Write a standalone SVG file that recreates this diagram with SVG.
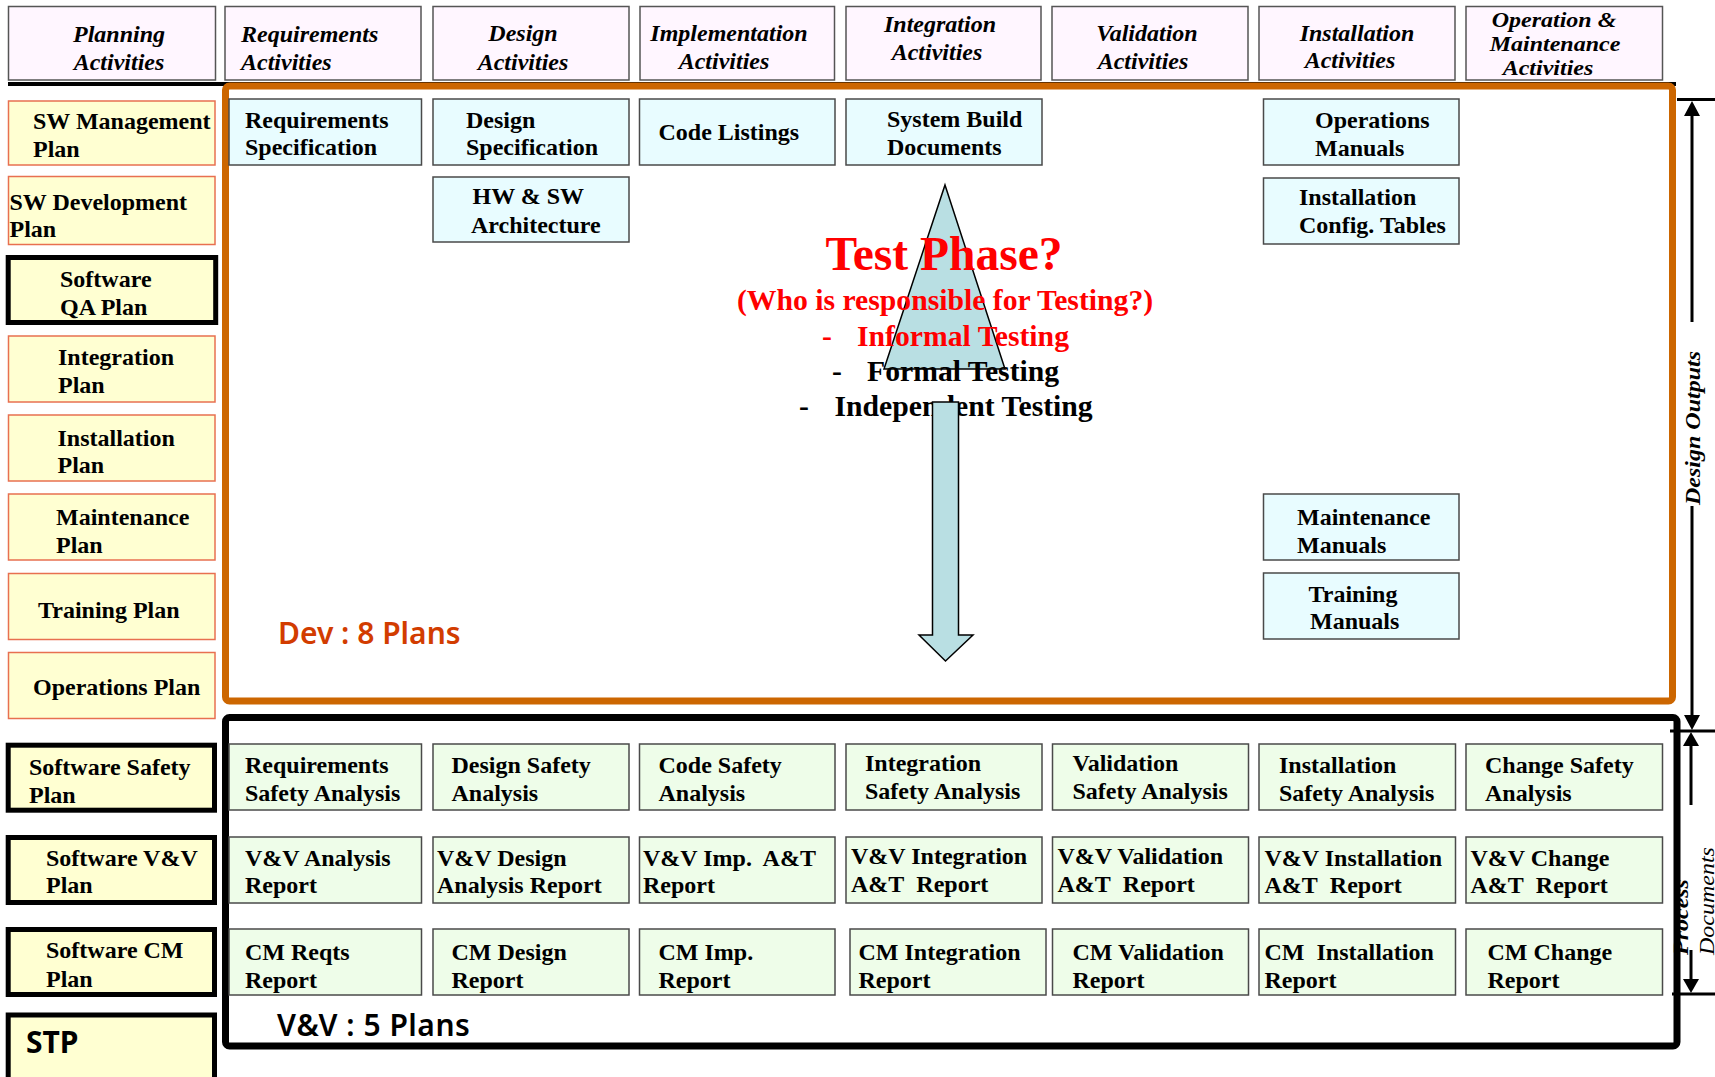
<svg xmlns="http://www.w3.org/2000/svg" width="1715" height="1077" viewBox="0 0 1715 1077">
  <style>
    .hdr { fill: #FFF6FF; stroke: #555; stroke-width: 1.5; }
    .cy { fill: #E8FCFF; stroke: #4a4a4a; stroke-width: 1.5; }
    .gr { fill: #EEFDE9; stroke: #4a4a4a; stroke-width: 1.5; }
    .pl { fill: #FFFFD2; stroke: #E87050; stroke-width: 1.5; }
    .plk { fill: #FFFFD2; stroke: #000; stroke-width: 5; }
    text { font-family: "Liberation Serif", "Times New Roman", serif; font-weight: bold; font-size: 24px; fill: #000; }
    .it { font-style: italic; }
    .mid { text-anchor: middle; }
    .red { fill: #FF0000; }
    .tp { font-size: 29.7px; }
    .sans { font-family: "Noto Sans", "Liberation Sans", sans-serif; font-weight: 600; font-size: 30px; }
    .dim { stroke: #000; stroke-width: 3; fill: none; }
    .head { fill: #000; stroke: none; }
  </style>

  <!-- rule under the activity headers (runs behind the design-output frame) -->
  <line x1="8" y1="84" x2="1676" y2="84" stroke="#000" stroke-width="4"/>

  <!-- activity headers -->
  <g id="hdr-planning">
    <rect class="hdr" x="8.5" y="6.5" width="207" height="73.5"/>
    <text class="it mid" x="119" y="42">Planning</text>
    <text class="it mid" x="119" y="70">Activities</text>
  </g>
  <g id="hdr-requirements">
    <rect class="hdr" x="225" y="6.5" width="196" height="73.5"/>
    <text class="it" x="241" y="42">Requirements</text>
    <text class="it" x="241" y="70">Activities</text>
  </g>
  <g id="hdr-design">
    <rect class="hdr" x="433" y="6.5" width="196" height="73.5"/>
    <text class="it mid" x="523" y="41">Design</text>
    <text class="it mid" x="523" y="70">Activities</text>
  </g>
  <g id="hdr-implementation">
    <rect class="hdr" x="640" y="6.5" width="194.5" height="73.5"/>
    <text class="it mid" x="729" y="41">Implementation</text>
    <text class="it mid" x="724" y="69">Activities</text>
  </g>
  <g id="hdr-integration">
    <rect class="hdr" x="846" y="6.5" width="195" height="73.5"/>
    <text class="it mid" x="940" y="32">Integration</text>
    <text class="it mid" x="937" y="60">Activities</text>
  </g>
  <g id="hdr-validation">
    <rect class="hdr" x="1052" y="6.5" width="196" height="73.5"/>
    <text class="it mid" x="1147" y="41">Validation</text>
    <text class="it mid" x="1143" y="69">Activities</text>
  </g>
  <g id="hdr-installation">
    <rect class="hdr" x="1259" y="6.5" width="196" height="73.5"/>
    <text class="it mid" x="1357" y="41">Installation</text>
    <text class="it mid" x="1350" y="68">Activities</text>
  </g>
  <g id="hdr-operation">
    <rect class="hdr" x="1466" y="6.5" width="196.5" height="73.5"/>
    <text class="it mid" transform="translate(1554,27) scale(1,0.9)">Operation &amp;</text>
    <text class="it mid" transform="translate(1555,51) scale(1,0.9)">Maintenance</text>
    <text class="it mid" transform="translate(1548,75) scale(1,0.9)">Activities</text>
  </g>

  <!-- design-output frame -->
  <rect id="dev-frame" x="225.5" y="86" width="1447" height="615" rx="4" fill="none" stroke="#CC6600" stroke-width="7"/>
  <!-- process-document frame -->
  <rect id="vv-frame" x="225.5" y="717.5" width="1451.5" height="328.5" rx="4" fill="none" stroke="#000" stroke-width="7"/>

  <!-- planning documents -->
  <g id="plan-swm">
    <rect class="pl" x="8.5" y="101" width="206.5" height="64"/>
    <text x="33" y="129">SW Management</text>
    <text x="33" y="157">Plan</text>
  </g>
  <g id="plan-swd">
    <rect class="pl" x="8.5" y="176.5" width="206.5" height="68"/>
    <text x="9.5" y="210">SW Development</text>
    <text x="9.5" y="237">Plan</text>
  </g>
  <g id="plan-qa">
    <rect class="plk" x="8.2" y="257.5" width="207.5" height="65"/>
    <text x="60" y="287">Software</text>
    <text x="60" y="315">QA Plan</text>
  </g>
  <g id="plan-integration">
    <rect class="pl" x="8.5" y="336" width="206.5" height="66"/>
    <text x="58" y="365">Integration</text>
    <text x="58" y="393">Plan</text>
  </g>
  <g id="plan-installation">
    <rect class="pl" x="8.5" y="415" width="206.5" height="66"/>
    <text x="57.5" y="446">Installation</text>
    <text x="57.5" y="473">Plan</text>
  </g>
  <g id="plan-maintenance">
    <rect class="pl" x="8.5" y="494" width="206.5" height="66"/>
    <text x="56" y="525">Maintenance</text>
    <text x="56" y="553">Plan</text>
  </g>
  <g id="plan-training">
    <rect class="pl" x="8.5" y="573.5" width="206.5" height="66"/>
    <text x="38" y="618">Training Plan</text>
  </g>
  <g id="plan-operations">
    <rect class="pl" x="8.5" y="652.5" width="206.5" height="66"/>
    <text x="33" y="695">Operations Plan</text>
  </g>
  <g id="plan-safety">
    <rect class="plk" x="8.2" y="745.2" width="206.3" height="65"/>
    <text x="29" y="775">Software Safety</text>
    <text x="29" y="803">Plan</text>
  </g>
  <g id="plan-vv">
    <rect class="plk" x="8.2" y="837.5" width="206.3" height="65"/>
    <text x="46" y="866">Software V&amp;V</text>
    <text x="46" y="893">Plan</text>
  </g>
  <g id="plan-cm">
    <rect class="plk" x="8.2" y="929.5" width="206.3" height="65"/>
    <text x="46" y="958">Software CM</text>
    <text x="46" y="987">Plan</text>
  </g>
  <g id="plan-stp">
    <rect class="plk" x="8.2" y="1015" width="206.3" height="100"/>
    <text class="sans" x="26" y="1053" style="font-weight:bold;font-size:30px">STP</text>
  </g>

  <!-- design outputs -->
  <g id="out-reqspec">
    <rect class="cy" x="229" y="99" width="192.5" height="66"/>
    <text x="245" y="128">Requirements</text>
    <text x="245" y="155">Specification</text>
  </g>
  <g id="out-designspec">
    <rect class="cy" x="433" y="99" width="196" height="66"/>
    <text x="466" y="128">Design</text>
    <text x="466" y="155">Specification</text>
  </g>
  <g id="out-arch">
    <rect class="cy" x="433" y="177" width="196" height="65"/>
    <text x="472.5" y="204">HW &amp; SW</text>
    <text x="471" y="233">Architecture</text>
  </g>
  <g id="out-code">
    <rect class="cy" x="639.5" y="99" width="195.5" height="66"/>
    <text x="658.5" y="140">Code Listings</text>
  </g>
  <g id="out-build">
    <rect class="cy" x="846" y="99" width="196" height="66"/>
    <text x="887" y="127">System Build</text>
    <text x="887" y="155">Documents</text>
  </g>
  <g id="out-opsman">
    <rect class="cy" x="1263.5" y="99" width="195.5" height="66"/>
    <text x="1315" y="128">Operations</text>
    <text x="1315" y="156">Manuals</text>
  </g>
  <g id="out-config">
    <rect class="cy" x="1263.5" y="178" width="195.5" height="66"/>
    <text x="1299" y="205">Installation</text>
    <text x="1299" y="233">Config. Tables</text>
  </g>
  <g id="out-maintman">
    <rect class="cy" x="1263.5" y="494" width="195.5" height="66"/>
    <text x="1297" y="525">Maintenance</text>
    <text x="1297" y="553">Manuals</text>
  </g>
  <g id="out-trainman">
    <rect class="cy" x="1263.5" y="573" width="195.5" height="66"/>
    <text x="1308.5" y="602">Training</text>
    <text x="1310" y="629">Manuals</text>
  </g>

  <!-- test phase note with the up / down arrows -->
  <g id="test-phase">
    <polygon points="945,185 1005,369 884,369" fill="#B9DFE3" stroke="#000" stroke-width="1.5"/>
    <text class="red mid" x="944" y="270" style="font-size:47.5px">Test Phase?</text>
    <text class="red mid tp" x="945" y="310">(Who is responsible for Testing?)</text>
    <text class="red tp" x="822" y="346">-</text>
    <text class="red tp" x="857" y="346">Informal Testing</text>
    <text class="tp" x="832" y="381">-</text>
    <text class="tp" x="867" y="381">Formal Testing</text>
    <text class="tp" x="799" y="416">-</text>
    <text class="tp" x="834.5" y="416">Independent Testing</text>
    <polygon points="932.5,402 958.5,402 958.5,635 973,635 945.5,661 919,635 932.5,635" fill="#B9DFE3" stroke="#000" stroke-width="1.5"/>
  </g>

  <text id="dev-label" class="sans" x="278" y="644" style="fill:#D23C00">Dev : 8 Plans</text>

  <!-- process documents -->
  <g id="doc-req-safety">
    <rect class="gr" x="229" y="744" width="192.5" height="66"/>
    <text x="245" y="773">Requirements</text>
    <text x="245" y="801">Safety Analysis</text>
  </g>
  <g id="doc-design-safety">
    <rect class="gr" x="433" y="744" width="196" height="66"/>
    <text x="451.5" y="773">Design Safety</text>
    <text x="451.5" y="801">Analysis</text>
  </g>
  <g id="doc-code-safety">
    <rect class="gr" x="639.5" y="744" width="195.5" height="66"/>
    <text x="658.5" y="773">Code Safety</text>
    <text x="658.5" y="801">Analysis</text>
  </g>
  <g id="doc-int-safety">
    <rect class="gr" x="846" y="744" width="196" height="66"/>
    <text x="865" y="771">Integration</text>
    <text x="865" y="799">Safety Analysis</text>
  </g>
  <g id="doc-val-safety">
    <rect class="gr" x="1052.5" y="744" width="196" height="66"/>
    <text x="1072.5" y="771">Validation</text>
    <text x="1072.5" y="799">Safety Analysis</text>
  </g>
  <g id="doc-inst-safety">
    <rect class="gr" x="1259" y="744" width="196.5" height="66"/>
    <text x="1279" y="773">Installation</text>
    <text x="1279" y="801">Safety Analysis</text>
  </g>
  <g id="doc-change-safety">
    <rect class="gr" x="1466" y="744" width="196.5" height="66"/>
    <text x="1485" y="773">Change Safety</text>
    <text x="1485" y="801">Analysis</text>
  </g>

  <g id="doc-vv-analysis">
    <rect class="gr" x="229" y="837" width="192.5" height="66"/>
    <text x="245" y="866">V&amp;V Analysis</text>
    <text x="245" y="893">Report</text>
  </g>
  <g id="doc-vv-design">
    <rect class="gr" x="433" y="837" width="196" height="66"/>
    <text x="437" y="866">V&amp;V Design</text>
    <text x="437" y="893">Analysis Report</text>
  </g>
  <g id="doc-vv-imp">
    <rect class="gr" x="639.5" y="837" width="195.5" height="66"/>
    <text x="643" y="866">V&amp;V Imp.&#160; A&amp;T</text>
    <text x="643" y="893">Report</text>
  </g>
  <g id="doc-vv-int">
    <rect class="gr" x="846" y="837" width="196" height="66"/>
    <text x="851" y="864">V&amp;V Integration</text>
    <text x="851" y="892">A&amp;T&#160; Report</text>
  </g>
  <g id="doc-vv-val">
    <rect class="gr" x="1052.5" y="837" width="196" height="66"/>
    <text x="1057.5" y="864">V&amp;V Validation</text>
    <text x="1057.5" y="892">A&amp;T&#160; Report</text>
  </g>
  <g id="doc-vv-inst">
    <rect class="gr" x="1259" y="837" width="196.5" height="66"/>
    <text x="1264.5" y="866">V&amp;V Installation</text>
    <text x="1264.5" y="893">A&amp;T&#160; Report</text>
  </g>
  <g id="doc-vv-change">
    <rect class="gr" x="1466" y="837" width="196.5" height="66"/>
    <text x="1470.5" y="866">V&amp;V Change</text>
    <text x="1470.5" y="893">A&amp;T&#160; Report</text>
  </g>

  <g id="doc-cm-reqts">
    <rect class="gr" x="229" y="929" width="192.5" height="66"/>
    <text x="245" y="960">CM Reqts</text>
    <text x="245" y="988">Report</text>
  </g>
  <g id="doc-cm-design">
    <rect class="gr" x="433" y="929" width="196" height="66"/>
    <text x="451.5" y="960">CM Design</text>
    <text x="451.5" y="988">Report</text>
  </g>
  <g id="doc-cm-imp">
    <rect class="gr" x="639.5" y="929" width="195.5" height="66"/>
    <text x="658.5" y="960">CM Imp.</text>
    <text x="658.5" y="988">Report</text>
  </g>
  <g id="doc-cm-int">
    <rect class="gr" x="850" y="929" width="196" height="66"/>
    <text x="858.5" y="960">CM Integration</text>
    <text x="858.5" y="988">Report</text>
  </g>
  <g id="doc-cm-val">
    <rect class="gr" x="1052.5" y="929" width="196" height="66"/>
    <text x="1072.5" y="960">CM Validation</text>
    <text x="1072.5" y="988">Report</text>
  </g>
  <g id="doc-cm-inst">
    <rect class="gr" x="1259" y="929" width="196.5" height="66"/>
    <text x="1264.5" y="960">CM&#160; Installation</text>
    <text x="1264.5" y="988">Report</text>
  </g>
  <g id="doc-cm-change">
    <rect class="gr" x="1466" y="929" width="196.5" height="66"/>
    <text x="1487.5" y="960">CM Change</text>
    <text x="1487.5" y="988">Report</text>
  </g>

  <text id="vv-label" class="sans" x="277" y="1036" style="letter-spacing:0.5px">V&amp;V : 5 Plans</text>

  <!-- extent markers on the right edge -->
  <g id="connectors">
    <line class="dim" x1="1677" y1="99.5" x2="1715" y2="99.5"/>
    <line class="dim" x1="1670" y1="731" x2="1715" y2="731"/>
    <line class="dim" x1="1672" y1="994" x2="1715" y2="994"/>
    <!-- design outputs span -->
    <line class="dim" x1="1692" y1="114" x2="1692" y2="322"/>
    <polygon class="head" points="1692,101 1700,116 1684,116"/>
    <line class="dim" x1="1692" y1="506" x2="1692" y2="717"/>
    <polygon class="head" points="1692,730 1700,715 1684,715"/>
    <!-- process documents span -->
    <line class="dim" x1="1691" y1="744" x2="1691" y2="805"/>
    <polygon class="head" points="1691,732 1699,746 1683,746"/>
    <line class="dim" x1="1691" y1="950" x2="1691" y2="981"/>
    <polygon class="head" points="1691,993 1699,979 1683,979"/>
  </g>
  <text class="it mid" transform="translate(1700,428) rotate(-90) scale(1,0.85)">Design Outputs</text>
  <text class="it" transform="translate(1688,955) rotate(-90) scale(1,0.85)">Process</text>
  <text class="it" transform="translate(1713.5,955) rotate(-90) scale(1,0.85)" style="font-weight:normal">Documents</text>
</svg>
